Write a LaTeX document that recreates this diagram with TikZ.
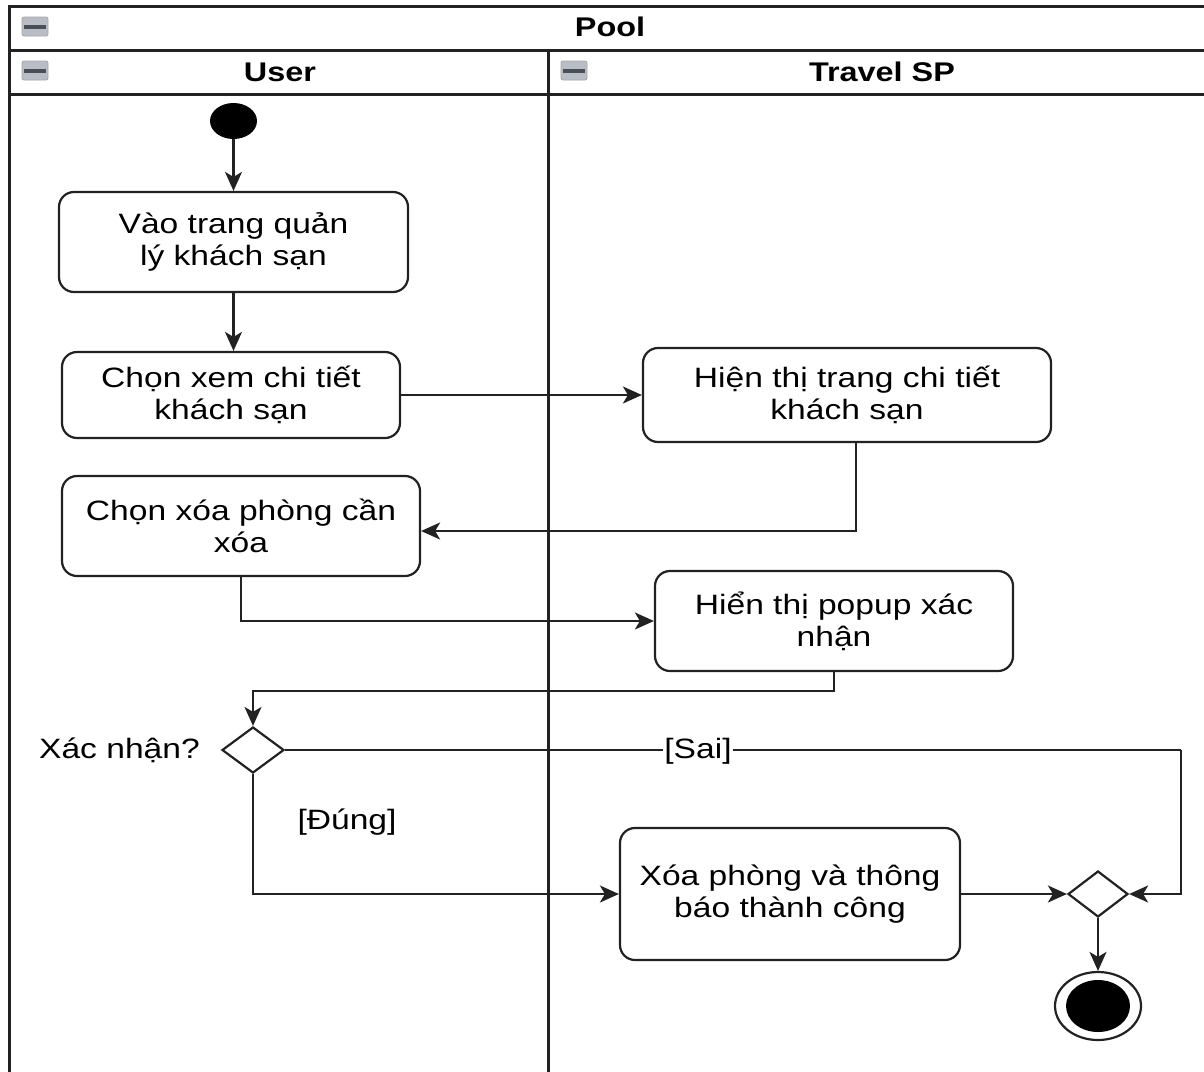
\documentclass[tikz,border=0pt]{standalone}
\usepackage{fontspec}
\setmainfont{Liberation Sans}[FakeStretch=1.2]
\usetikzlibrary{arrows.meta,shapes.geometric,calc}

\definecolor{ink}{HTML}{222222}
\definecolor{iconfill}{HTML}{B9BEC6}
\definecolor{iconbar}{HTML}{4A4E55}

\tikzset{
  lane/.style={draw=ink, line width=3pt},
  action/.style={draw=ink, line width=2.2pt, rounded corners=15pt, fill=white,
    align=center, inner sep=0pt, font=\fontsize{28}{32}\selectfont,
    execute at begin node={\rule{0pt}{31pt}}},
  decision/.style={diamond, draw=ink, line width=2.2pt, fill=white, inner sep=0pt},
  flow/.style={draw=ink, line width=2.2pt,
    -{Stealth[length=19pt,width=17pt,inset=5pt]}},
  plain/.style={draw=ink, line width=2.2pt},
  guard/.style={font=\fontsize{28}{32}\selectfont, inner sep=1pt},
  header/.style={font=\fontsize{27}{30}\selectfont\bfseries},
}

% collapse button drawn in each header
\newcommand{\collapsebtn}[2]{%
  \fill[iconfill, rounded corners=2pt] (#1,#2) rectangle ++(26,19);
  \draw[gray!70, line width=0.8pt, rounded corners=2pt] (#1,#2) rectangle ++(26,19);
  \fill[iconbar] ($(#1,#2)+(2,7.5)$) rectangle ++(22,4);
}

\begin{document}
\begin{tikzpicture}[x=1pt, y=-1pt]
\useasboundingbox (0,0) rectangle (1204,1071);
\fill[white] (0,0) rectangle (1204,1071);
\begin{scope}
\clip (0,0) rectangle (1204,1071);

% pool and lanes
\draw[lane] (9,1090) -- (9,6) -- (1220,6);
\draw[lane] (9,50) -- (1220,50);
\draw[lane] (9,94) -- (1220,94);
\draw[lane] (548,50) -- (548,1090);

\collapsebtn{22}{17}
\collapsebtn{22}{61}
\collapsebtn{561}{61}

\node[header] (pooltitle) at (610,27) {Pool};
\node[header] (usertitle) at (280,72) {User};
\node[header] (sptitle) at (882,72) {Travel SP};

% activity nodes
\node[ellipse, fill=black, minimum width=47pt, minimum height=36pt, inner sep=0pt] (start) at (233.5,121) {};
\node[action, minimum width=349pt, minimum height=100pt] (b1) at (233.5,242) {Vào trang quản\\lý khách sạn};
\node[action, minimum width=338pt, minimum height=86pt] (b2) at (231,395) {Chọn xem chi tiết\\khách sạn};
\node[action, minimum width=408pt, minimum height=94pt] (b3) at (847,395) {Hiện thị trang chi tiết\\khách sạn};
\node[action, minimum width=358pt, minimum height=100pt] (b4) at (241,526) {Chọn xóa phòng cần\\xóa};
\node[action, minimum width=358pt, minimum height=100pt] (b5) at (834,621) {Hiển thị popup xác\\nhận};
\node[decision, minimum width=62pt, minimum height=46pt] (d1) at (253,750) {};
\node[action, minimum width=340pt, minimum height=132pt] (b6) at (790,894) {Xóa phòng và thông\\báo thành công};
\node[decision, minimum width=60pt, minimum height=46pt] (m1) at (1098,894) {};
\node[ellipse, draw=ink, line width=2.2pt, fill=white, minimum width=86pt, minimum height=68pt, inner sep=0pt] (end) at (1098,1006) {};
\node[ellipse, fill=black, minimum width=64pt, minimum height=52pt, inner sep=0pt] (endcore) at (end.center) {};

\node[guard, anchor=east] (question) at (201,750) {Xác nhận?};

% bend points
\coordinate (saibend) at (1181,750);

% connectors
\draw[flow] (start.south) -- (start.south |- b1.north);
\draw[flow] (b1.south) -- (b1.south |- b2.north);
\draw[flow] (b2.east) -- (b2.east -| b3.west);
\draw[flow] ([xshift=9pt]b3.south) |- ([yshift=-5pt]b4.east);
\draw[flow] (b4.south) |- (b5.west);
\draw[flow] (b5.south) -- ++(0,19) -| (d1.north);
\draw[plain] (d1.east) -- (saibend);
\draw[flow] (saibend) |- (m1.east);
\draw[flow] (d1.south) |- (b6.west);
\draw[flow] (b6.east) -- (m1.west);
\draw[flow] (m1.south) -- (end.north);

% guards
\node[guard, fill=white] (sai) at (698,751) {[Sai]};
\node[guard] (dung) at (347,822) {[Đúng]};
\end{scope}
\end{tikzpicture}
\end{document}
